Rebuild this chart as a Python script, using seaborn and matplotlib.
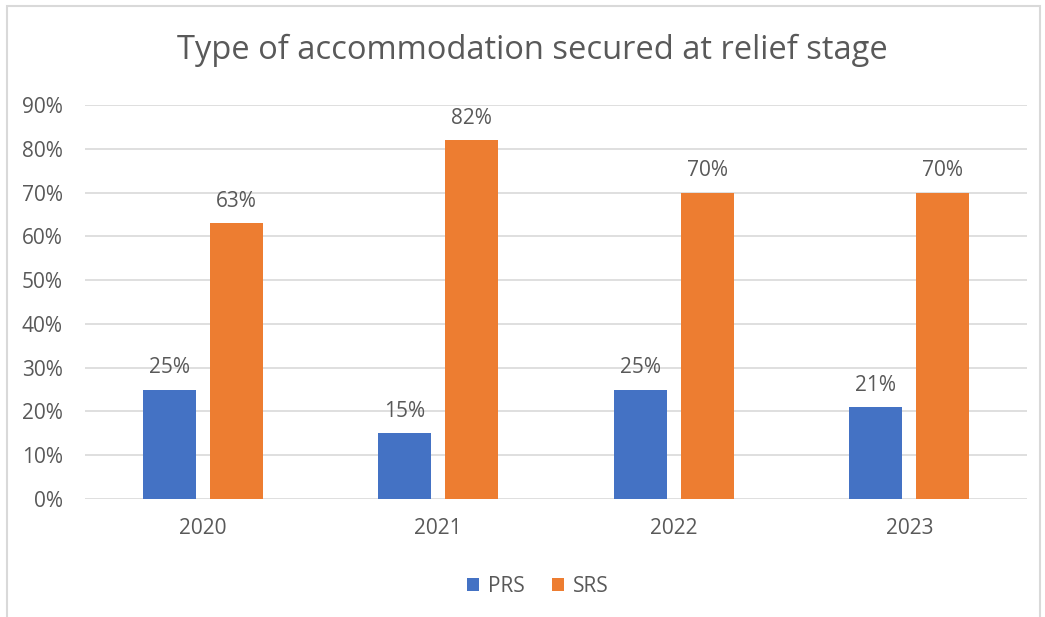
import pandas as pd
import matplotlib.pyplot as plt
import seaborn as sns
from matplotlib.patches import Rectangle
from matplotlib.ticker import PercentFormatter

years = ["2020", "2021", "2022", "2023"]
prs = [0.25, 0.15, 0.25, 0.21]
srs = [0.63, 0.82, 0.70, 0.70]
series = ["PRS", "SRS"]
colors = ["#4472C4", "#ED7D31"]

df = pd.DataFrame({
    "Year": years * 2,
    "Share": prs + srs,
    "Type": ["PRS"] * len(years) + ["SRS"] * len(years),
})

sns.set_style("white")
plt.rcParams["font.family"] = ["Open Sans", "DejaVu Sans"]
text_col = "#595959"

fig = plt.figure(figsize=(10.45, 6.17), dpi=100)
ax = fig.add_axes([0.0813, 0.1912, 0.9015, 0.6386])

sns.barplot(data=df, x="Year", y="Share", hue="Type", hue_order=series,
            palette=colors, width=0.57, gap=0.21, saturation=1,
            linewidth=0, ax=ax)

ax.set_ylim(0, 0.9)
ax.set_xlim(-0.5, len(years) - 0.5)
ax.set_yticks([i / 10 for i in range(10)])
ax.yaxis.set_major_formatter(PercentFormatter(1.0, decimals=0))
ax.grid(axis="y", color="#D9D9D9", linewidth=1.2)
ax.set_axisbelow(True)
for s in ax.spines.values():
    s.set_visible(False)
ax.tick_params(axis="both", length=0, labelsize=15, colors=text_col)
ax.tick_params(axis="x", pad=14)
ax.tick_params(axis="y", pad=16)
ax.set_xlabel("")
ax.set_ylabel("")

for cont in ax.containers:
    labels = [f"{v * 100:.0f}%" for v in cont.datavalues]
    ax.bar_label(cont, labels=labels, padding=8, fontsize=15, color=text_col)

# title is centred on the whole chart, not the plot area
fig.text(532 / 1045, 1 - 50 / 617, "Type of accommodation secured at relief stage",
         ha="center", va="center", fontsize=23.5, color=text_col)

leg = ax.legend(loc="upper center", bbox_to_anchor=(0.4805, -0.148), ncol=2,
                frameon=False, fontsize=15, handlelength=0.6, handleheight=0.6,
                columnspacing=1.3, handletextpad=0.4)
for t in leg.get_texts():
    t.set_color(text_col)

# chart frame
fig.patches.append(Rectangle((7 / 1045, -0.05), 1033 / 1045, 1 - 6 / 617 + 0.05,
                             transform=fig.transFigure, fill=False,
                             edgecolor="#D9D9D9", linewidth=1.5))

fig.savefig("out.png", dpi=100)
